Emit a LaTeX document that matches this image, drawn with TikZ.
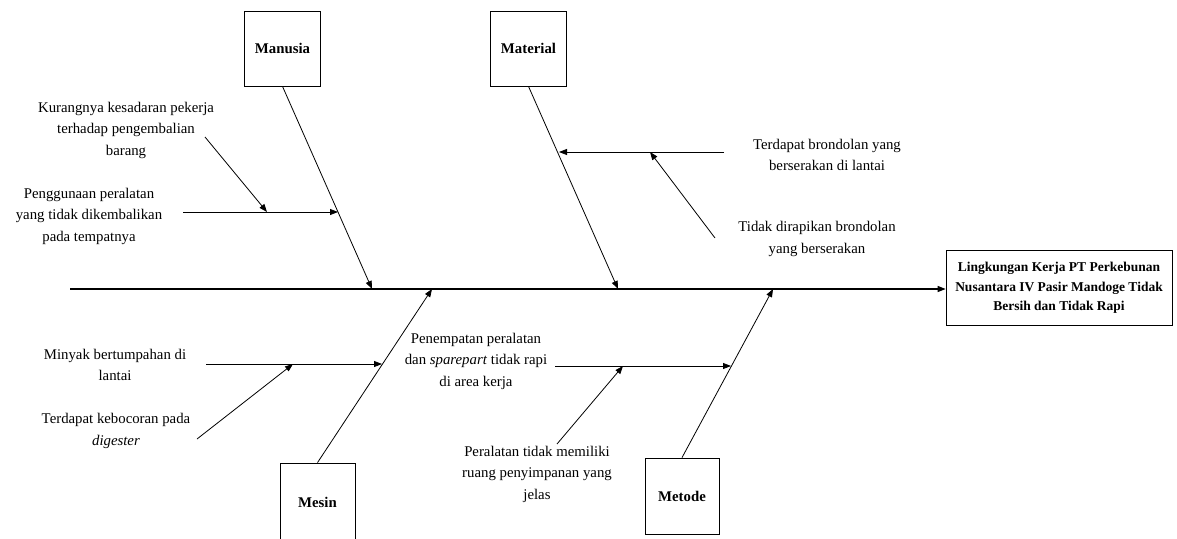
\documentclass[tikz,border=0pt]{standalone}
\usepackage{fontspec}
\setmainfont{Liberation Serif}
\usetikzlibrary{arrows.meta}
\begin{document}
\begin{tikzpicture}[x=1pt,y=-1pt,
  line width=0.8pt,
  tip/.style={-{Triangle[length=8pt,width=6pt]}},
  txt/.style={align=center,inner sep=0pt,font=\fontsize{14.8}{21.5}\selectfont},
  catbox/.style={draw,line width=0.8pt,inner sep=0pt,minimum width=76pt,minimum height=75pt,font=\fontsize{14.8}{18}\selectfont\bfseries},
  effbox/.style={draw,line width=0.8pt,inner sep=0pt,minimum width=226pt,minimum height=75pt,align=center,font=\fontsize{13.5}{19.5}\selectfont\bfseries}]
\useasboundingbox (0,0) rectangle (1177,538);

% effect and spine
\node[effbox] (eff) at (1059,288) {Lingkungan Kerja PT Perkebunan\\Nusantara IV Pasir Mandoge Tidak\\Bersih dan Tidak Rapi};
\coordinate (sL) at (70,289);
\draw[tip,line width=1.1pt] (sL) -- (sL -| eff.west);

% category boxes
\node[catbox] (man) at (282.5,48.5) {Manusia};
\node[catbox] (mat) at (528.5,48.5) {Material};
\node[catbox,minimum width=75pt,minimum height=78pt] (mes) at (317.5,502) {Mesin};
\node[catbox,minimum width=74pt,minimum height=76pt] (met) at (682,496) {Metode};

% spine points
\coordinate (manT) at (372,289);
\coordinate (matT) at (618,289);
\coordinate (mesT) at (432,289);
\coordinate (metT) at (773,289);

% main bones
\draw[tip] (man.south) -- (manT);
\draw[tip] (mat.south) -- (matT);
\draw[tip] (mes.north) -- (mesT);
\draw[tip] (met.north) -- (metT);

% Manusia causes
\node[txt] (kurang) at (126,130) {Kurangnya kesadaran pekerja\\terhadap pengembalian\\barang};
\node[txt] (pengg) at (89,216) {Penggunaan peralatan\\yang tidak dikembalikan\\pada tempatnya};
\coordinate (pgS) at (183,212);
\coordinate (manS) at (338,212);
\coordinate (pgM) at (267,212);
\coordinate (kuS) at (205,137);
\draw[tip] (pgS) -- (manS);
\draw[tip] (kuS) -- (pgM);

% Material causes
\node[txt] (terdB) at (827,155) {Terdapat brondolan yang\\berserakan di lantai};
\node[txt] (tidakD) at (817,239) {Tidak dirapikan brondolan\\yang berserakan};
\coordinate (tbS) at (724,152);
\coordinate (matS) at (559,152);
\coordinate (tbM) at (650,152);
\coordinate (tdS) at (715,238);
\draw[tip] (tbS) -- (matS);
\draw[tip] (tdS) -- (tbM);

% Mesin causes
\node[txt] (minyak) at (115,365) {Minyak bertumpahan di\\lantai};
\node[txt] (bocor) at (116,431) {Terdapat kebocoran pada\\\textit{digester}};
\coordinate (myS) at (206,364);
\coordinate (mesS) at (382,364);
\coordinate (myM) at (293,364);
\coordinate (tkS) at (197,439);
\draw[tip] (myS) -- (mesS);
\draw[tip] (tkS) -- (myM);

% Metode causes
\node[txt] (penem) at (476,361) {Penempatan peralatan\\dan \textit{sparepart} tidak rapi\\di area kerja};
\node[txt] (peral) at (537,474) {Peralatan tidak memiliki\\ruang penyimpanan yang\\jelas};
\coordinate (penS) at (555,366);
\coordinate (metS) at (731,366);
\coordinate (penM) at (623,366);
\coordinate (plS) at (557,444);
\draw[tip] (penS) -- (metS);
\draw[tip] (plS) -- (penM);
\end{tikzpicture}
\end{document}
